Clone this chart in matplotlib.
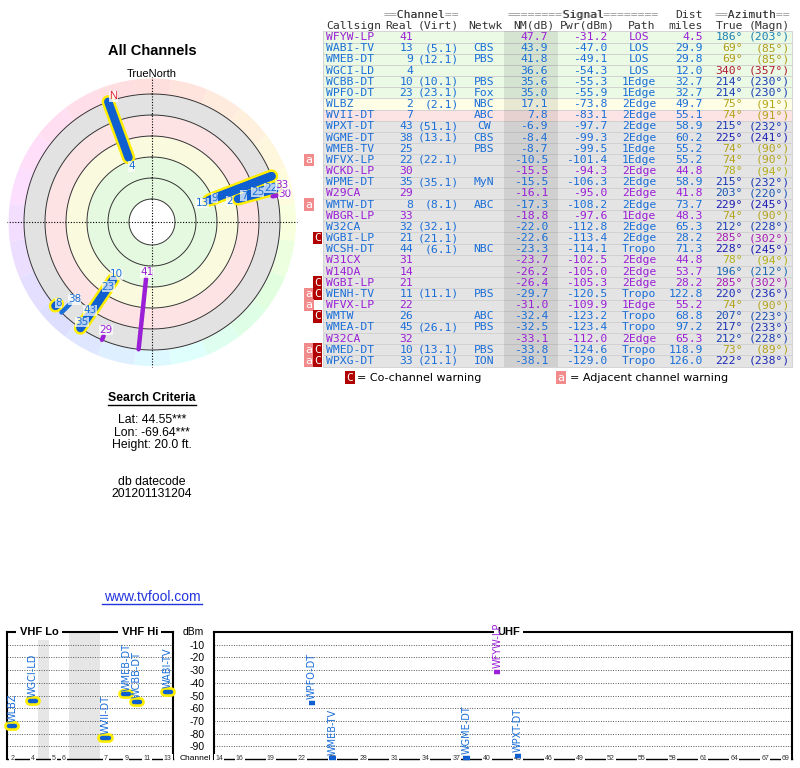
import colorsys
import numpy as np
import matplotlib
matplotlib.use("Agg")
import matplotlib.pyplot as plt

plt.rcParams['font.family'] = ['Liberation Sans', 'DejaVu Sans']

# --- Station table ---
CALLSIGN = ["WFYW-LP", "WABI-TV", "WMEB-DT", "WGCI-LD", "WCBB-DT", "WPFO-DT", "WLBZ", "WVII-DT",
            "WPXT-DT", "WGME-DT", "WMEB-TV", "WFVX-LP", "WCKD-LP", "WPME-DT", "W29CA", "WMTW-DT",
            "WBGR-LP", "W32CA", "WGBI-LP", "WCSH-DT", "W31CX", "W14DA", "WGBI-LP", "WENH-TV",
            "WFVX-LP", "WMTW", "WMEA-DT", "W32CA", "WMED-DT", "WPXG-DT"]
REAL_CH = [41, 13, 9, 4, 10, 23, 2, 7, 43, 38, 25, 22, 30, 35, 29, 8,
           33, 32, 21, 44, 31, 14, 21, 11, 22, 26, 45, 32, 10, 33]
VIRT_CH = ["", "5.1", "12.1", "", "10.1", "23.1", "2.1", "", "51.1", "13.1", "", "22.1", "", "35.1", "", "8.1",
           "", "32.1", "21.1", "6.1", "", "", "", "11.1", "", "", "26.1", "", "13.1", "21.1"]
NETWORK = ["", "CBS", "PBS", "", "PBS", "Fox", "NBC", "ABC", "CW", "CBS", "PBS", "", "", "MyN", "", "ABC",
           "", "", "", "NBC", "", "", "", "PBS", "", "ABC", "PBS", "", "PBS", "ION"]
NM_DB = [47.7, 43.9, 41.8, 36.6, 35.6, 35.0, 17.1, 7.8, -6.9, -8.4, -8.7, -10.5, -15.5, -15.5, -16.1, -17.3,
         -18.8, -22.0, -22.6, -23.3, -23.7, -26.2, -26.4, -29.7, -31.0, -32.4, -32.5, -33.1, -33.8, -38.1]
PWR_DBM = [-31.2, -47.0, -49.1, -54.3, -55.3, -55.9, -73.8, -83.1, -97.7, -99.3, -99.5, -101.4, -94.3, -106.3,
           -95.0, -108.2, -97.6, -112.8, -113.4, -114.1, -102.5, -105.0, -105.3, -120.5, -109.9, -123.2,
           -123.4, -112.0, -124.6, -129.0]
PATH = ["LOS", "LOS", "LOS", "LOS", "1Edge", "1Edge", "2Edge", "2Edge", "2Edge", "2Edge", "1Edge", "1Edge",
        "2Edge", "2Edge", "2Edge", "2Edge", "1Edge", "2Edge", "2Edge", "Tropo", "2Edge", "2Edge", "2Edge",
        "Tropo", "1Edge", "Tropo", "Tropo", "2Edge", "Tropo", "Tropo"]
DIST_MI = [4.5, 29.9, 29.8, 12.0, 32.7, 32.7, 49.7, 55.1, 58.9, 60.2, 55.2, 55.2, 44.8, 58.9, 41.8, 73.7,
           48.3, 65.3, 28.2, 71.3, 44.8, 53.7, 28.2, 122.8, 55.2, 68.8, 97.2, 65.3, 118.9, 126.0]
AZ_TRUE = [186, 69, 69, 340, 214, 214, 75, 74, 215, 225, 74, 74, 78, 215, 203, 229,
           74, 212, 285, 228, 78, 196, 285, 220, 74, 207, 217, 212, 73, 222]
AZ_MAGN = [203, 85, 85, 357, 230, 230, 91, 91, 232, 241, 90, 90, 94, 232, 220, 245,
           90, 228, 302, 245, 94, 212, 302, 236, 90, 223, 233, 228, 89, 238]
ANALOG = [1, 0, 0, 0, 0, 0, 0, 0, 0, 0, 0, 0, 1, 0, 1, 0,
          1, 0, 0, 0, 1, 1, 1, 0, 1, 0, 0, 1, 0, 0]
WARN = ["", "", "", "", "", "", "", "", "", "", "", "a", "", "", "", "a",
        "", "", "C", "", "", "", "C", "aC", "a", "C", "", "", "aC", "aC"]

# radar rings (NM dB) and spectrum axes
RING_LEVELS = [80, 60, 40, 20, 0, -20]
DBM_TICKS = [-10, -20, -30, -40, -50, -60, -70, -80, -90]
VHF_SLOTS = [2, 3, 4, None, 5, 6, None, None, None, 7, 8, 9, 10, 11, 12, 13]
VHF_TICKS = [2, 4, 5, 6, 7, 9, 11, 13]
UHF_TICKS = [14, 16, 19, 22, 25, 28, 31, 34, 37, 40, 43, 46, 49, 52, 55, 58, 61, 64, 67, 69]

# --- Styling ---
BLUE = '#1a6ed8'
PURPLE = '#9a1fd6'
MONO = 'DejaVu Sans Mono'
AZ_HUE_STOPS = ([0, 75, 186, 215, 285, 340, 360], [0, 55, 200, 228, 295, 350, 360])


def az_color(az, s, v):
    hue = np.interp(az % 360, *AZ_HUE_STOPS) / 360.0
    return colorsys.hsv_to_rgb(hue, s, v)


def row_color(nm):
    if nm >= 30:
        return '#eafae4'
    if nm >= 10:
        return '#fefee6'
    if nm >= 0:
        return '#fde4e4'
    return '#e4e4e4'


n = len(CALLSIGN)
text_col = [PURPLE if a else BLUE for a in ANALOG]

fig = plt.figure(figsize=(8, 7.68), dpi=100)

# page layer in pixel coordinates for the free text
page = fig.add_axes([0, 0, 1, 1])
page.set_xlim(0, 800)
page.set_ylim(768, 0)
page.axis('off')

page.text(152, 51, "All Channels", ha='center', va='center', fontsize=10.5, fontweight='bold')
page.text(152, 74, "TrueNorth", ha='center', va='center', fontsize=8)
page.text(152, 398, "Search Criteria", ha='center', va='center', fontsize=8.8, fontweight='bold')
page.plot([108, 196], [404.5, 404.5], color='black', lw=1)
page.text(152, 420, "Lat: 44.55***", ha='center', va='center', fontsize=8.8)
page.text(152, 433, "Lon: -69.64***", ha='center', va='center', fontsize=8.8)
page.text(152, 445, "Height: 20.0 ft.", ha='center', va='center', fontsize=8.8)
page.text(152, 482, "db datecode", ha='center', va='center', fontsize=8.8)
page.text(152, 494, "201201131204", ha='center', va='center', fontsize=8.8)
page.text(152, 597, "www.tvfool.com", ha='center', va='center', fontsize=10, color='#2233dd')
page.plot([102, 202], [604, 604], color='#2233dd', lw=1)

# --- Radar plot ---
R_CENTER = 107 / 1.05
R_EDGE = -37 / 1.05
R_RIM = -20
pol = fig.add_axes([8 / 800, (768 - 366) / 768, 288 / 800, 288 / 768], projection='polar')
pol.set_theta_zero_location('N')
pol.set_theta_direction(-1)
pol.set_ylim(R_CENTER, R_EDGE)
pol.axis('off')

full = np.linspace(0, 2 * np.pi, 361)
bands = [(80, 40, '#e4f9df'), (40, 20, '#fafadf'), (20, 0, '#fde3e3'), (0, -20, '#e2e2e2')]
for lo, hi, c in bands:
    pol.fill_between(full, lo, hi, color=c, lw=0, zorder=1)
for k in range(24):
    th = np.radians(np.linspace(k * 15 - 7.5, k * 15 + 7.5, 12))
    pol.fill_between(th, R_RIM, R_EDGE, color=az_color(k * 15, 0.13, 1.0), lw=0, zorder=1)
for lvl in RING_LEVELS:
    pol.plot(full, [lvl] * len(full), color='#333333', lw=0.7, zorder=2)
for deg in (0, 90, 180, 270):
    pol.plot([np.radians(deg)] * 2, [R_CENTER, R_EDGE - 0.8], color='black', lw=0.8,
             ls=(0, (1, 1.5)), zorder=2, clip_on=False)

decl = AZ_MAGN[0] - AZ_TRUE[0]
pol.text(np.radians(360 - decl), -23.5, "N", color='#e02030', fontsize=8, ha='center', va='center',
         bbox=dict(boxstyle='square,pad=0.05', fc='white', ec='none', alpha=0.8), zorder=6)

label_nudge = {3: 9, 1: 7, 2: -3.7, 6: 8, 7: 3, 11: -5, 16: -8, 12: -11.5, 5: -7.4, 13: 1.2, 15: 1.3}
shown = [i for i in range(n) if NM_DB[i] >= R_RIM]
for i in shown:
    th = np.radians(AZ_TRUE[i])
    if REAL_CH[i] <= 13:
        pol.plot([th, th], [NM_DB[i], R_RIM], color='#ffee00', lw=9.5, solid_capstyle='round', zorder=3)
for i in shown:
    th = np.radians(AZ_TRUE[i])
    vhf = REAL_CH[i] <= 13
    pol.plot([th, th], [NM_DB[i], R_RIM], color=text_col[i] if not vhf else '#0f5fd0',
             lw=6 if vhf else 3.2, solid_capstyle='round', zorder=5 if vhf else 4)
for i in shown:
    pol.text(np.radians(AZ_TRUE[i]), NM_DB[i] + label_nudge.get(i, 6), str(REAL_CH[i]),
             color=text_col[i], fontsize=7.5, family='DejaVu Sans', ha='center', va='center', zorder=7,
             bbox=dict(boxstyle='square,pad=0.02', fc='white', ec='none', alpha=0.7))

# --- Station table ---
tab = fig.add_axes([300 / 800, 1 - 383.3 / 768, 500 / 800, (383.3 - 9.07) / 768])
tab.set_xlim(300, 800)
tab.set_ylim(31, -2.5)
tab.axis('off')
rows = np.arange(n)
tab.barh(rows, 469, left=323, height=1.0, color=[row_color(v) for v in NM_DB],
         edgecolor='#cfcfcf', linewidth=0.6)
tab.barh(rows, 54, left=504, height=1.0, color='black', alpha=0.085, linewidth=0)

hdr = dict(family=MONO, fontsize=8.2, va='center')
tab.text(459, -2, "==Channel==", ha='right', color='#999999', **hdr)
tab.text(459, -2, "  Channel  ", ha='right', color='#333333', **hdr)
tab.text(508, -2, "========Signal========", ha='left', color='#999999', **hdr)
tab.text(508, -2, "        Signal        ", ha='left', color='#333333', **hdr)
tab.text(703, -2, "Dist", ha='right', color='#333333', **hdr)
tab.text(790, -2, "==Azimuth==", ha='right', color='#999999', **hdr)
tab.text(790, -2, "  Azimuth  ", ha='right', color='#333333', **hdr)
for x, s, ha in [(326, "Callsign", 'left'), (413, "Real", 'right'), (459, "(Virt)", 'right'),
                 (485, "Netwk", 'center'), (555, "NM(dB)", 'right'), (615, "Pwr(dBm)", 'right'),
                 (655, "Path", 'right'), (703, "miles", 'right'), (743, "True", 'right'),
                 (790, "(Magn)", 'right')]:
    tab.text(x, -1, s, ha=ha, color='#333333', **hdr)

cell = dict(family=MONO, fontsize=8.2, va='center')
for i in range(n):
    c = text_col[i]
    tab.text(326, i, CALLSIGN[i], ha='left', color=c, **cell)
    tab.text(413, i, str(REAL_CH[i]), ha='right', color=c, **cell)
    if VIRT_CH[i]:
        tab.text(459, i, "(%s)" % VIRT_CH[i], ha='right', color=c, **cell)
    tab.text(484, i, NETWORK[i], ha='center', color=c, **cell)
    tab.text(548, i, "%.1f" % NM_DB[i], ha='right', color=c, **cell)
    tab.text(607, i, "%.1f" % PWR_DBM[i], ha='right', color=c, **cell)
    tab.text(639, i, PATH[i], ha='center', color=c, **cell)
    tab.text(703, i, "%.1f" % DIST_MI[i], ha='right', color=c, **cell)
    ac = az_color(AZ_TRUE[i], 0.85, 0.70)
    tab.text(743, i, "%d°" % AZ_TRUE[i], ha='right', color=ac, **cell)
    tab.text(790, i, "(%d°)" % AZ_MAGN[i], ha='right', color=ac, **cell)
    if 'a' in WARN[i]:
        tab.text(309, i, "a", ha='center', color='white',
                 bbox=dict(boxstyle='square,pad=0.12', fc='#f28c8c', ec='none'), **cell)
    if 'C' in WARN[i]:
        tab.text(317.5, i, "C", ha='center', color='white',
                 bbox=dict(boxstyle='square,pad=0.12', fc='#b00000', ec='none'), **cell)

tab.text(350, 30.5, "C", ha='center', color='white',
         bbox=dict(boxstyle='square,pad=0.12', fc='#b00000', ec='none'), **cell)
tab.text(357, 30.5, "= Co-channel warning", ha='left', va='center', fontsize=8, family='DejaVu Sans')
tab.text(561, 30.5, "a", ha='center', color='white',
         bbox=dict(boxstyle='square,pad=0.12', fc='#f28c8c', ec='none'), **cell)
tab.text(570, 30.5, "= Adjacent channel warning", ha='left', va='center', fontsize=8,
         family='DejaVu Sans')


# --- Spectrum panels ---
def spectrum_axes(rect, xlim):
    ax = fig.add_axes(rect)
    ax.set_xlim(*xlim)
    ax.set_ylim(-100, 0)
    ax.set_yticks(DBM_TICKS)
    ax.set_xticks([])
    ax.grid(axis='y', ls=(0, (1, 1.5)), color='#555555', lw=0.7)
    ax.tick_params(length=0, labelleft=False)
    for s in ax.spines.values():
        s.set_linewidth(1.5)
    ax.spines['bottom'].set_linewidth(1.0)
    return ax


def vhf_x(ch):
    return VHF_SLOTS.index(ch) + 0.5


vhf = spectrum_axes([7 / 800, 9 / 768, 166 / 800, 127 / 768], (0, len(VHF_SLOTS)))
uhf = spectrum_axes([214 / 800, 9 / 768, 578 / 800, 127 / 768], (13.5, 69.6))

for k, ch in enumerate(VHF_SLOTS):
    if ch is None:
        vhf.axvspan(k, k + 1, color='#e6e6e6', lw=0, zorder=0)

uhf.tick_params(labelleft=True, pad=7)
uhf.set_yticklabels([str(v) for v in DBM_TICKS], fontsize=7.5)
uhf.text(-0.018, 1.0, "dBm", transform=uhf.transAxes, ha='right', va='center', fontsize=7.5)
uhf.text(-0.005, 0.0, "Channel", transform=uhf.transAxes, ha='right', va='center', fontsize=6,
         clip_on=False)

tbox = dict(boxstyle='square,pad=0.3', fc='white', ec='none')
vhf.text(0.193, 1.0, "VHF Lo", transform=vhf.transAxes, ha='center', va='center', fontsize=8,
         fontweight='bold', bbox=tbox, zorder=3)
vhf.text(0.80, 1.0, "VHF Hi", transform=vhf.transAxes, ha='center', va='center', fontsize=8,
         fontweight='bold', bbox=tbox, zorder=3)
uhf.text(0.51, 1.0, "UHF", transform=uhf.transAxes, ha='center', va='center', fontsize=8,
         fontweight='bold', bbox=tbox, zorder=3)

tick_style = dict(ha='center', va='center', fontsize=5, color='#333333', clip_on=False, zorder=4,
                  bbox=dict(boxstyle='square,pad=0.15', fc='white', ec='none'))
for ch in VHF_TICKS:
    vhf.text(vhf_x(ch), -100, str(ch), **tick_style)
for ch in UHF_TICKS:
    uhf.text(ch, -100, str(ch), **tick_style)

for i in range(n):
    if NM_DB[i] <= -10:
        continue
    if REAL_CH[i] <= 13:
        ax, x, half = vhf, vhf_x(REAL_CH[i]), 0.3
        ax.plot([x - half, x + half], [PWR_DBM[i]] * 2, color='#ffee00', lw=7, solid_capstyle='round',
                zorder=5, clip_on=False)
        ax.plot([x - half, x + half], [PWR_DBM[i]] * 2, color='#0f5fd0', lw=3.2,
                solid_capstyle='round', zorder=6, clip_on=False)
    else:
        ax, x, half = uhf, REAL_CH[i], 0.3
        ax.plot([x - half, x + half], [PWR_DBM[i]] * 2, color=text_col[i] if ANALOG[i] else '#0f5fd0',
                lw=3.2, solid_capstyle='butt', zorder=6, clip_on=False)
    ax.text(x, PWR_DBM[i] + 3, CALLSIGN[i], rotation=90, ha='center', va='bottom', fontsize=7,
            family='DejaVu Sans', color=text_col[i], zorder=7, clip_on=False)

fig.savefig('out.png', dpi=100)
